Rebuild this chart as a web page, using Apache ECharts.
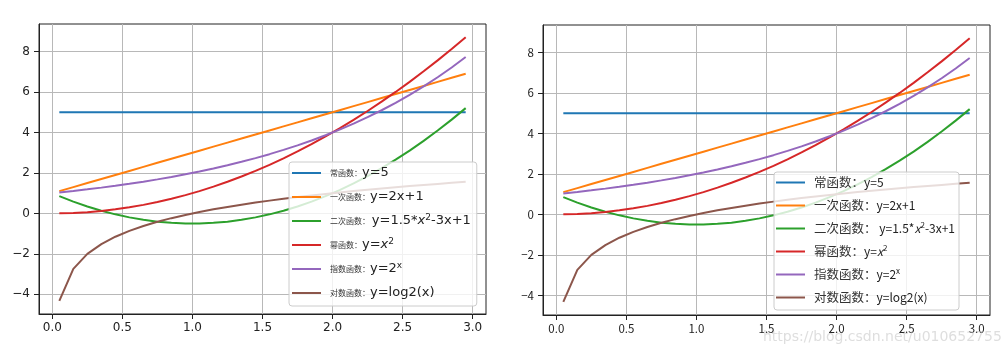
<!DOCTYPE html>
<html><head><meta charset="utf-8">
<script src="https://cdn.jsdelivr.net/npm/echarts@6/dist/echarts.min.js"></script>
<style>html,body{margin:0;padding:0;background:#fff}#c{width:1007px;height:356px}</style>
</head><body><div id="c"></div>
<script>
const xs = [0.05,0.15,0.25,0.35,0.45,0.55,0.65,0.75,0.85,0.95,1.05,1.15,1.25,1.35,1.45,1.55,1.65,1.75,1.85,1.95,2.05,2.15,2.25,2.35,2.45,2.55,2.65,2.75,2.85,2.95];
const constVals = [5,5,5,5,5,5,5,5,5,5,5,5,5,5,5,5,5,5,5,5,5,5,5,5,5,5,5,5,5,5];
const linearVals = [1.1,1.3,1.5,1.7,1.9,2.1,2.3,2.5,2.7,2.9,3.1,3.3,3.5,3.7,3.9,4.1,4.3,4.5,4.7,4.9,5.1,5.3,5.5,5.7,5.9,6.1,6.3,6.5,6.7,6.9];
const quadVals = [0.854,0.584,0.344,0.134,-0.046,-0.196,-0.316,-0.406,-0.466,-0.496,-0.496,-0.466,-0.406,-0.316,-0.196,-0.046,0.134,0.344,0.584,0.854,1.154,1.484,1.844,2.234,2.654,3.104,3.584,4.094,4.634,5.204];
const powerVals = [0.0025,0.0225,0.0625,0.1225,0.2025,0.3025,0.4225,0.5625,0.7225,0.9025,1.1025,1.3225,1.5625,1.8225,2.1025,2.4025,2.7225,3.0625,3.4225,3.8025,4.2025,4.6225,5.0625,5.5225,6.0025,6.5025,7.0225,7.5625,8.1225,8.7025];
const expVals = [1.035,1.110,1.189,1.275,1.366,1.464,1.569,1.682,1.803,1.932,2.071,2.219,2.378,2.549,2.732,2.928,3.138,3.364,3.605,3.864,4.141,4.438,4.757,5.098,5.464,5.856,6.277,6.727,7.210,7.728];
const logVals = [-4.322,-2.737,-2.0,-1.515,-1.152,-0.863,-0.622,-0.415,-0.234,-0.074,0.070,0.202,0.322,0.433,0.536,0.632,0.722,0.807,0.888,0.964,1.036,1.104,1.170,1.233,1.293,1.350,1.406,1.459,1.511,1.561];
const xTicks = [0,0.5,1,1.5,2,2.5,3];
const yTicks = [-4,-2,0,2,4,6,8];
const seriesNames = ['常函数：y=5','一次函数：y=2x+1','二次函数： y=1.5*x^2-3x+1','幂函数：y=x^2','指数函数：y=2^x','对数函数：y=log2(x)'];
const cnParts = ['常函数：','一次函数：','二次函数： ','幂函数：','指数函数：','对数函数：'];
const fmParts = ['{f|y=5}','{f|y=2x+1}','{f|y=1.5*}{i|x}{s|2}{f|-3x+1}','{f|y=}{i|x}{s|2}','{f|y=2}{s|x}','{f|y=log2(x)}'];
const allVals = [constVals,linearVals,quadVals,powerVals,expVals,logVals];
const colors = ['#1f77b4','#ff7f0e','#2ca02c','#d62728','#9467bd','#8c564b'];

const chart = echarts.init(document.getElementById('c'), null, {renderer:'canvas'});
const fmtNum = (v, d) => { const s = Math.abs(v).toFixed(d); return (v < 0 ? '\u2212' : '') + s; };

function axes(gi, font, fs) {
  const x = {
    type:'value', gridIndex:gi, min:-0.095, max:3.095,
    axisLine:{show:true, onZero:false, lineStyle:{color:'#222', width:1}},
    axisTick:{show:true, length:5, inside:false, customValues:xTicks, lineStyle:{color:'#222'}},
    axisLabel:{customValues:xTicks, margin:8, color:'#222', fontFamily:font, fontSize:fs, formatter:v=>fmtNum(v,1)},
    splitLine:{show:true, lineStyle:{color:'#b8b8b8', width:1}}
  };
  const y = {
    type:'value', gridIndex:gi, min:-4.97, max:9.36,
    axisLine:{show:true, onZero:false, lineStyle:{color:'#222', width:1}},
    axisTick:{show:true, length:5, customValues:yTicks, lineStyle:{color:'#222'}},
    axisLabel:{customValues:yTicks, margin:9, color:'#222', fontFamily:font, fontSize:fs, formatter:v=>fmtNum(v,0)},
    splitLine:{show:true, lineStyle:{color:'#b8b8b8', width:1}}
  };
  return [x,y];
}
const [x0,y0] = axes(0,'DejaVu Sans',12);
const [x1,y1] = axes(1,'Noto Sans CJK SC',11.5);

const series = [];
[0,1].forEach(gi => {
  allVals.forEach((vals, k) => {
    series.push({
      type:'line', name:seriesNames[k], xAxisIndex:gi, yAxisIndex:gi,
      data: xs.map((xv,i)=>[xv, vals[i]]),
      showSymbol:false, symbol:'none', lineStyle:{width:2, color:colors[k]}, itemStyle:{color:colors[k]},
      animation:false, z:2
    });
  });
});

function legendFor(gi, cfg) {
  return {
    orient:'vertical', left:cfg.left, top:cfg.top, icon:'rect', itemWidth:29, itemHeight:2,
    itemGap:cfg.gap, padding:cfg.pad, backgroundColor:'rgba(255,255,255,0.8)',
    borderColor:'#cccccc', borderWidth:1, borderRadius:3,
    data: seriesNames, selectedMode:false,
    formatter: name => { const k = seriesNames.indexOf(name); return '{c|' + cnParts[k] + '}' + fmParts[k]; },
    textStyle:{ color:'#222', lineHeight:cfg.lh, padding:[0,0,0,cfg.tp],
      rich:{
        c:{fontFamily:cfg.cnFont, fontSize:cfg.cnSize, color:'#333', lineHeight:cfg.lh},
        f:{fontFamily:cfg.fFont, fontSize:cfg.fSize, color:'#222', lineHeight:cfg.lh},
        i:{fontFamily:cfg.fFont, fontSize:cfg.fSize, fontStyle:'italic', color:'#222', lineHeight:cfg.lh},
        s:{fontFamily:cfg.fFont, fontSize:Math.round(cfg.fSize*0.7), color:'#222', verticalAlign:'top', lineHeight:cfg.lh}
      }
    }
  };
}

const option = {
  backgroundColor:'#fff',
  animation:false,
  grid:[
    {left:39, right:521, top:24, bottom:42, show:true, borderColor:'#222', borderWidth:1, containLabel:false},
    {left:543, right:17, top:25, bottom:41, show:true, borderColor:'#222', borderWidth:1, containLabel:false}
  ],
  xAxis:[x0,x1], yAxis:[y0,y1],
  legend:[
    legendFor(0,{left:289, top:162, gap:8, lh:16, tp:4, pad:[3,6,5,3], cnFont:'Noto Sans CJK SC', cnSize:8, fFont:'DejaVu Sans', fSize:13}),
    legendFor(1,{left:774, top:172, gap:8, lh:15, tp:4, pad:[3,4,5,2], cnFont:'Noto Sans CJK SC', cnSize:12.5, fFont:'Noto Sans CJK SC', fSize:12})
  ],
  series: series,
  graphic:[{type:'text', left:763, top:330, silent:true, z:100,
    style:{text:'https://blog.csdn.net/u010652755', fill:'rgba(190,190,190,0.5)', font:'14px "DejaVu Sans"'}}]
};
chart.setOption(option);
</script></body></html>
